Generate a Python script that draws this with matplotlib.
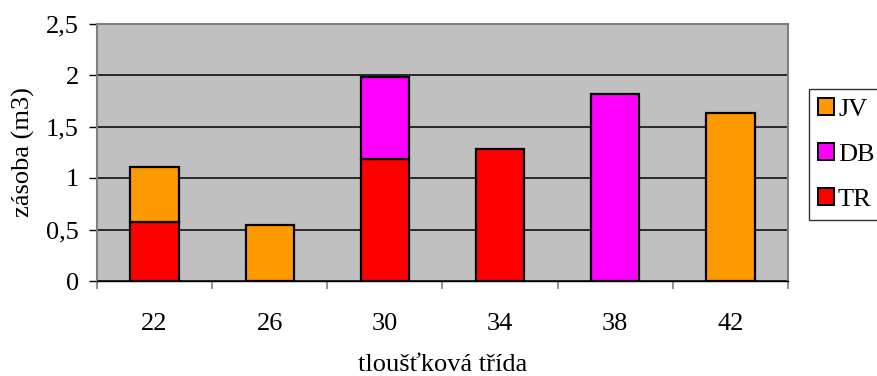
import matplotlib
matplotlib.use("Agg")
import matplotlib.pyplot as plt
import numpy as np
from matplotlib.patches import Patch

categories = ["22", "26", "30", "34", "38", "42"]
tr = [0.576, 0.0, 1.18, 1.28, 0.0, 0.0]
db = [0.0, 0.0, 0.80, 0.0, 1.82, 0.0]
jv = [0.528, 0.54, 0.0, 0.0, 0.0, 1.628]

plt.rcParams['font.family'] = ['Liberation Serif', 'DejaVu Serif']
FS = 19

fig = plt.figure(figsize=(8.77, 3.76), dpi=100)
ax = fig.add_axes([97 / 877, 1 - 281 / 376, 691 / 877, 257.5 / 376])
ax.set_facecolor('#C0C0C0')

x = np.arange(len(categories))
w = 0.42
tr_a = np.array(tr)
db_a = np.array(db)
jv_a = np.array(jv)

kw = dict(width=w, edgecolor='black', linewidth=1.6, zorder=3)
for i in range(len(x)):
    if tr_a[i] > 0:
        ax.bar(x[i], tr_a[i], color='#FF0000', **kw)
    if db_a[i] > 0:
        ax.bar(x[i], db_a[i], bottom=tr_a[i], color='#FF00FF', **kw)
    if jv_a[i] > 0:
        ax.bar(x[i], jv_a[i], bottom=tr_a[i] + db_a[i], color='#FF9900', **kw)

ax.set_xlim(-0.5, len(x) - 0.5)
ax.set_ylim(0, 2.5)
ax.set_yticks([0, 0.5, 1, 1.5, 2, 2.5])
ax.set_yticklabels(["0", "0,5", "1", "1,5", "2", "2,5"])
ax.set_xticks(np.arange(len(x) + 1) - 0.5, minor=False)
ax.set_xticklabels([])
ax.set_xticks(x, minor=True)
ax.set_xticklabels(categories, minor=True)
ax.tick_params(axis='x', which='minor', length=0, pad=23, labelsize=FS)
ax.tick_params(axis='x', which='major', length=6, color='#808080', width=1.2)
ax.tick_params(axis='y', length=6, color='black', width=1, labelsize=FS, pad=7)

ax.grid(axis='y', color='black', linewidth=1.1, zorder=1)
ax.set_axisbelow(True)
for s in ax.spines.values():
    s.set_color('#808080')
    s.set_linewidth(1.5)
ax.spines['bottom'].set_color('black')
ax.spines['bottom'].set_linewidth(1.0)

ax.set_ylabel("zásoba (m3)", fontsize=FS, labelpad=8)
ax.set_xlabel("tloušťková třída", fontsize=FS, labelpad=14)

handles = [Patch(facecolor='#FF9900', edgecolor='black', linewidth=1.4, label='JV'),
           Patch(facecolor='#FF00FF', edgecolor='black', linewidth=1.4, label='DB'),
           Patch(facecolor='#FF0000', edgecolor='black', linewidth=1.4, label='TR')]
leg = fig.legend(handles=handles, loc='upper left', bbox_to_anchor=(809 / 877, 1 - 89 / 376),
                 fontsize=FS, frameon=True, fancybox=False, handlelength=0.6,
                 handleheight=0.6, handletextpad=0.15, labelspacing=0.85,
                 borderpad=0.35, borderaxespad=0)
leg.get_frame().set_edgecolor('black')
leg.get_frame().set_linewidth(1.0)

fig.savefig("out.png", dpi=100)
